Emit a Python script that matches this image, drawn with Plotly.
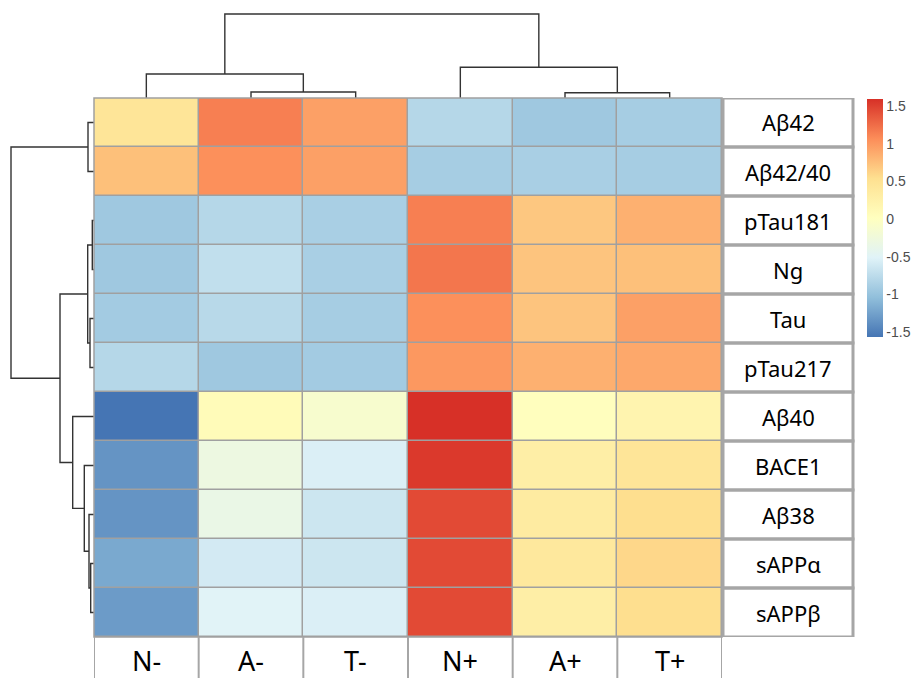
import plotly.graph_objects as go

# Heatmap data (row-scaled values)
columns = ['N-', 'A-', 'T-', 'N+', 'A+', 'T+']
rows = ['Aβ42', 'Aβ42/40', 'pTau181', 'Ng', 'Tau', 'pTau217',
        'Aβ40', 'BACE1', 'Aβ38', 'sAPPα', 'sAPPβ']

ab42 = [0.45, 1.15, 0.95, -0.80, -0.95, -0.90]
ab42_40 = [0.75, 1.05, 0.95, -0.90, -0.88, -0.90]
ptau181 = [-0.95, -0.80, -0.88, 1.15, 0.70, 0.85]
ng = [-0.95, -0.72, -0.88, 1.20, 0.72, 0.75]
tau = [-0.92, -0.78, -0.90, 1.05, 0.72, 0.95]
ptau217 = [-0.80, -0.95, -0.92, 1.00, 0.85, 0.90]
ab40 = [-1.57, 0.08, -0.12, 1.60, 0.03, 0.20]
bace1 = [-1.35, -0.30, -0.55, 1.55, 0.30, 0.45]
ab38 = [-1.35, -0.35, -0.65, 1.45, 0.35, 0.55]
sappa = [-1.20, -0.60, -0.65, 1.45, 0.40, 0.60]
sappb = [-1.30, -0.50, -0.55, 1.45, 0.30, 0.55]
z = [ab42, ab42_40, ptau181, ng, tau, ptau217, ab40, bace1, ab38, sappa, sappb]

# Dendrogram merges: (left id, right id, height); leaves are 0..n-1
col_merges = [(1, 2, 6), (4, 5, 5.3), (0, 6, 24), (3, 7, 30.7), (8, 9, 84)]
row_merges = [(0, 1, 6), (2, 3, 1.7), (4, 5, 4), (12, 13, 6.3), (9, 10, 3.3),
              (8, 15, 5), (7, 16, 9.7), (6, 17, 21.3), (14, 18, 34), (11, 19, 83)]

colorbar_ticks = [-1.5, -1, -0.5, 0, 0.5, 1, 1.5]

# reversed RdYlBu (7 classes), as pheatmap uses
RDYLBU_REV = ['#4575B4', '#91BFDB', '#E0F3F8', '#FFFFBF', '#FEE090', '#FC8D59', '#D73027']
GRID = '#A0A0A0'
BOX = '#A6A6A6'
W, H = 919, 678
OFF = 8  # page body margin


def xp(px):
    return (px - OFF) / W


def yp(py):
    return 1 - (py - OFF) / H


def dendro_lines(n, merges):
    pos = {i: float(i) for i in range(n)}
    hgt = {i: 0.0 for i in range(n)}
    p, h = [], []
    for k, (a, b, ht) in enumerate(merges):
        p += [pos[a], pos[a], pos[b], pos[b], None]
        h += [hgt[a], ht, ht, hgt[b], None]
        pos[n + k] = (pos[a] + pos[b]) / 2
        hgt[n + k] = ht
    return p, h


fig = go.Figure()

fig.add_trace(go.Heatmap(
    z=z, x=list(range(len(columns))), y=list(range(len(rows))),
    colorscale=[[i / 6, c] for i, c in enumerate(RDYLBU_REV)],
    zmin=min(min(r) for r in z), zmax=max(max(r) for r in z),
    xgap=1.5, ygap=1.5, hoverinfo='skip',
    colorbar=dict(x=xp(867), xanchor='left', y=yp(99), yanchor='top',
                  len=238 / H, lenmode='fraction', thickness=16, outlinewidth=0,
                  xpad=0, ypad=0,
                  tickvals=colorbar_ticks, ticktext=[f'{t:g}' for t in colorbar_ticks],
                  ticks='', tickfont=dict(family='Liberation Sans', size=14, color='#4d4d4d')),
))

cx, cy = dendro_lines(len(columns), col_merges)
fig.add_trace(go.Scatter(x=cx, y=cy, xaxis='x2', yaxis='y2', mode='lines',
                         line=dict(color='#333333', width=1.4), hoverinfo='skip', showlegend=False))

ry, rx = dendro_lines(len(rows), row_merges)
fig.add_trace(go.Scatter(x=rx, y=ry, xaxis='x3', yaxis='y3', mode='lines',
                         line=dict(color='#333333', width=1.4), hoverinfo='skip', showlegend=False))

hm_x = [xp(94), xp(722)]
hm_y = [yp(637), yp(98)]
hidden = dict(showgrid=False, zeroline=False, showticklabels=False, ticks='', showline=False)

shapes = [
    # gray behind the cells shows through the gaps as borders
    dict(type='rect', xref='x domain', yref='y domain', x0=0, x1=1, y0=0, y1=1,
         fillcolor=GRID, line=dict(width=0), layer='below'),
    dict(type='rect', xref='x domain', yref='y domain', x0=0, x1=1, y0=0, y1=1,
         line=dict(color=GRID, width=1.5), layer='above'),
]
# boxed row labels on the right
for i in range(len(rows)):
    shapes.append(dict(type='rect', xref='paper', yref='y', x0=xp(723), x1=xp(853),
                       y0=i - 0.5, y1=i + 0.5, line=dict(color=BOX, width=3)))
# separators under the columns
for j in range(len(columns) + 1):
    shapes.append(dict(type='line', xref='x', yref='paper', x0=j - 0.5, x1=j - 0.5,
                       y0=0, y1=hm_y[0], line=dict(color=BOX, width=2)))

annotations = []
for i, r in enumerate(rows):
    annotations.append(dict(text=r, xref='paper', yref='y', x=xp(788), y=i,
                            xanchor='center', yanchor='middle', showarrow=False,
                            font=dict(family='Noto Sans', size=22, color='black')))
for j, c in enumerate(columns):
    annotations.append(dict(text=c, xref='x', yref='paper', x=j, y=yp(660),
                            xanchor='center', yanchor='middle', showarrow=False,
                            font=dict(family='Noto Sans', size=27, color='black')))

fig.update_layout(
    width=W, height=H,
    margin=dict(l=0, r=0, t=0, b=0),
    paper_bgcolor='white', plot_bgcolor='white',
    showlegend=False,
    xaxis=dict(domain=hm_x, range=[-0.5, 5.5], **hidden),
    yaxis=dict(domain=hm_y, range=[10.5, -0.5], **hidden),
    xaxis2=dict(domain=hm_x, range=[-0.5, 5.5], anchor='y2', **hidden),
    yaxis2=dict(domain=[hm_y[1], 1], range=[0, 98 - OFF], anchor='x2', **hidden),
    xaxis3=dict(domain=[0, hm_x[0]], range=[94 - OFF, 0], anchor='y3', **hidden),
    yaxis3=dict(domain=hm_y, range=[10.5, -0.5], anchor='x3', **hidden),
    shapes=shapes,
    annotations=annotations,
)

fig.write_html('out.html')
